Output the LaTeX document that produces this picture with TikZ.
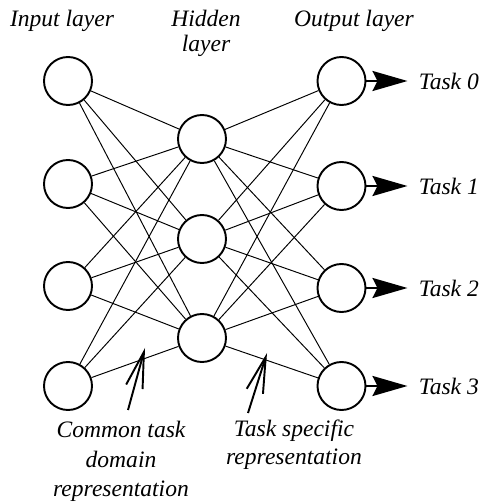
\documentclass[tikz,border=0pt]{standalone}
\usepackage{fontspec}
\setmainfont{Liberation Serif}[ItalicFont={Liberation Serif Italic}]
\usetikzlibrary{arrows.meta,positioning}
\tikzset{neuron/.style={circle, draw, line width=1.1pt, minimum size=0.96cm, inner sep=0pt},
        link/.style={line width=0.55pt},
        layername/.style={font={\fontsize{13.4}{16.5}\selectfont\itshape}, align=center, anchor=base, inner sep=0pt},
        taskname/.style={font={\fontsize{13.4}{16.5}\selectfont\itshape}, anchor=west, inner xsep=0.22cm, inner ysep=0pt},
        output/.style={line width=1.4pt, -{Stealth[length=0.7cm, width=0.4cm, inset=0.1cm]}},
        pointer/.style={line width=1.1pt, -{Straight Barb[length=0.72cm, width=0.34cm]}},
        }
\begin{document}
\begin{tikzpicture}
    \useasboundingbox (0,0) rectangle (9.8,10.04);

    % input layer
    \node [neuron] (in1) at (1.36,8.42) {};
    \node [neuron] (in2) at (1.36,6.36) {};
    \node [neuron] (in3) at (1.36,4.32) {};
    \node [neuron] (in4) at (1.36,2.32) {};

    % hidden layer
    \node [neuron] (hid1) at (4.04,7.26) {};
    \node [neuron] (hid2) at (4.04,5.26) {};
    \node [neuron] (hid3) at (4.04,3.28) {};

    % output layer
    \node [neuron] (out1) at (6.83,8.42) {};
    \node [neuron] (out2) at (6.83,6.32) {};
    \node [neuron] (out3) at (6.83,4.28) {};
    \node [neuron] (out4) at (6.83,2.32) {};

    \node [layername] (inname) at (1.24,9.5) {Input layer};
    \node [layername, font={\fontsize{13.4}{14.3}\selectfont\itshape}] (hidname) at (4.12,9.0) {Hidden\\layer};
    \node [layername] (outname) at (7.08,9.5) {Output layer};

    \node [taskname] (task0) at (8.15,8.42) {Task 0};
    \node [taskname] (task1) at (8.15,6.32) {Task 1};
    \node [taskname] (task2) at (8.15,4.28) {Task 2};
    \node [taskname] (task3) at (8.15,2.32) {Task 3};

    \draw [link] (in1) -- (hid1) (in1) -- (hid2) (in1) -- (hid3);
    \draw [link] (in2) -- (hid1) (in2) -- (hid2) (in2) -- (hid3);
    \draw [link] (in3) -- (hid1) (in3) -- (hid2) (in3) -- (hid3);
    \draw [link] (in4) -- (hid1) (in4) -- (hid2) (in4) -- (hid3);

    \draw [link] (hid1) -- (out1) (hid1) -- (out2) (hid1) -- (out3) (hid1) -- (out4);
    \draw [link] (hid2) -- (out1) (hid2) -- (out2) (hid2) -- (out3) (hid2) -- (out4);
    \draw [link] (hid3) -- (out1) (hid3) -- (out2) (hid3) -- (out3) (hid3) -- (out4);

    \draw [output] (out1) -- (task0.west);
    \draw [output] (out2) -- (task1.west);
    \draw [output] (out3) -- (task2.west);
    \draw [output] (out4) -- (task3.west);

    % representation labels
    \node [layername, font={\fontsize{13.4}{17}\selectfont\itshape}] (common) at (2.42,0.1) {Common task\\domain\\representation};
    \node [layername] (specific) at (5.88,0.74) {Task specific\\representation};

    \coordinate (commontail) at (2.56,1.84);
    \coordinate (commontip) at (2.90,3.08);
    \coordinate (specifictail) at (4.96,1.78);
    \coordinate (specifictip) at (5.34,2.98);
    \draw [pointer] (commontail) -- (commontip);
    \draw [pointer] (specifictail) -- (specifictip);

\end{tikzpicture}
\end{document}
